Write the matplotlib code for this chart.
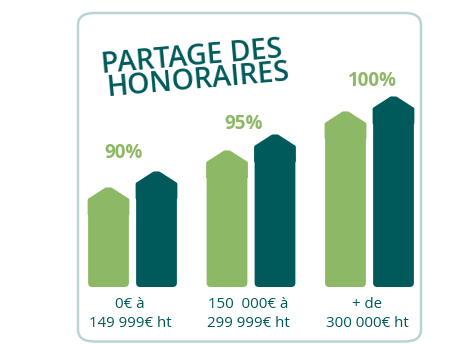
import matplotlib.pyplot as plt
from matplotlib.patches import Polygon, FancyBboxPatch

# Data
categories = ['0€ à\n149 999€ ht', '150  000€ à\n299 999€ ht', '+ de\n300 000€ ht']
percent_labels = ['90%', '95%', '100%']
light_heights = [99, 136, 175]
dark_heights = [115, 152, 190]

light_green = '#8db866'
dark_teal = '#005a5b'
border_col = '#b9d4d3'

plt.rcParams['font.family'] = ['Open Sans', 'DejaVu Sans']

fig = plt.figure(figsize=(4.65, 3.44), dpi=100)

# rounded frame around the chart
frame = FancyBboxPatch((78 / 465, 2.5 / 344), 343 / 465, 328.5 / 344,
                       boxstyle='round,pad=0,rounding_size=0.035',
                       transform=fig.transFigure, facecolor='none',
                       edgecolor=border_col, linewidth=1.8, zorder=-1)
fig.patches.append(frame)

ax = fig.add_axes([73.25 / 465, 57 / 344, 355.5 / 465, 200 / 344])
ax.set_xlim(-0.5, 2.5)
ax.set_ylim(0, 200)
ax.axis('off')

px_per_unit = 118.5   # x data unit in pixels (y unit = 1 px)
offset = 0.2025
half_w = 0.172
drop = 12
# label placement tweaks (x in data units, y above the dark bar)
pct_dx = [-0.072, -0.063, 0.025]
pct_dy = [19, 11, 16]


def house_bar(xc, h, color):
    # body with rounded bottom corners
    body = FancyBboxPatch((xc - half_w, 0), 2 * half_w, h - drop - 6,
                          boxstyle='round,pad=0,rounding_size=0.035',
                          mutation_aspect=px_per_unit, facecolor=color,
                          edgecolor='none', clip_on=False)
    ax.add_patch(body)
    # pointed top
    hw = half_w - 0.0105
    pts = [(xc - hw, h - drop - 14), (xc - hw, h - drop), (xc - 0.02, h - 1.2),
           (xc + 0.02, h - 1.2), (xc + hw, h - drop), (xc + hw, h - drop - 14)]
    ax.add_patch(Polygon(pts, closed=True, facecolor=color, edgecolor=color,
                         linewidth=2.5, joinstyle='round', clip_on=False))


for i in range(len(categories)):
    house_bar(i - offset, light_heights[i], light_green)
    house_bar(i + offset, dark_heights[i], dark_teal)
    ax.text(i + pct_dx[i], dark_heights[i] + pct_dy[i], percent_labels[i],
            ha='center', va='center', color=light_green, fontsize=13.5,
            fontweight='bold', clip_on=False)
    ax.text(i - 0.02, -27, categories[i], ha='center', va='center',
            multialignment='center', color=dark_teal, fontsize=10.8,
            fontweight='medium', linespacing=1.3, clip_on=False)

# title
fig.text(192 / 465, 1 - 58 / 344, 'PARTAGE DES', rotation=5, rotation_mode='anchor',
         ha='center', va='center', color=dark_teal, fontsize=20.5, fontweight='semibold')
fig.text(198 / 465, 1 - 81 / 344, 'HONORAIRES', rotation=5, rotation_mode='anchor',
         ha='center', va='center', color=dark_teal, fontsize=20.5, fontweight='semibold')

fig.savefig('out.png', dpi=100)
